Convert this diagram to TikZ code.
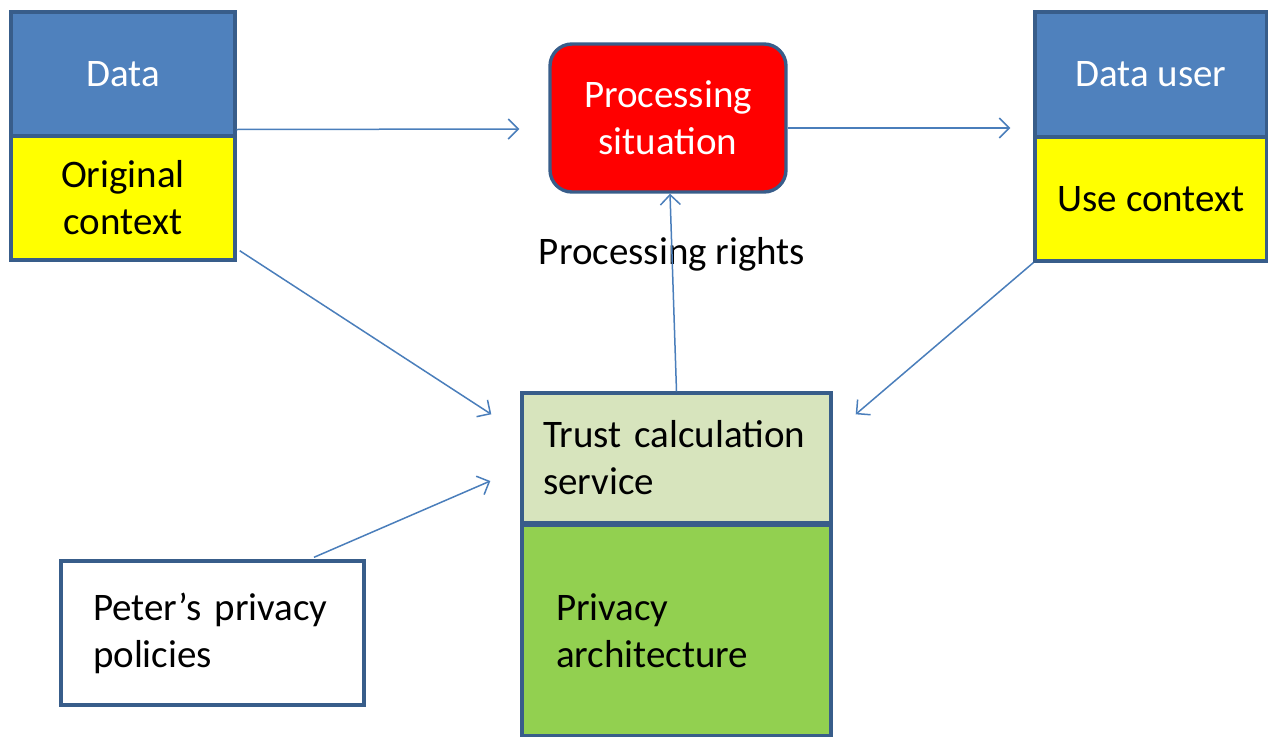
\documentclass[tikz,border=0pt]{standalone}
\usepackage{fontspec}
\setmainfont{Carlito}
\usetikzlibrary{arrows.meta}
\definecolor{bord}{HTML}{385D8A}
\definecolor{bluef}{HTML}{4F81BD}
\definecolor{yel}{HTML}{FFFF00}
\definecolor{lgreen}{HTML}{D7E4BD}
\definecolor{dgreen}{HTML}{92D050}
\definecolor{arrc}{HTML}{4A7EBB}
\tikzset{
  box/.style={draw=bord, line width=3.4pt, rectangle, inner sep=0pt,
    font=\fontsize{39}{47}\selectfont, align=center},
  arr/.style={draw=arrc, line width=1.5pt, -{Straight Barb[length=10pt,width=20pt,line width=1.5pt]}},
}
\begin{document}
\begin{tikzpicture}[x=1pt,y=-1pt]
\useasboundingbox (0,0) rectangle (1268,736);
\begin{scope}
\clip (0,0) rectangle (1268,736);
% Data
\node[box, fill=bluef, text=white, minimum width=224pt, minimum height=125pt] (datab) at (123,74.5) {Data};
\node[box, fill=yel, minimum width=224pt, minimum height=124pt] (datay) at (123,198) {Original\\context};
% Data user
\node[box, fill=bluef, text=white, minimum width=232pt, minimum height=125pt] (userb) at (1151,74.5) {Data user};
\node[box, fill=yel, minimum width=232pt, minimum height=124pt] (usery) at (1151,199) {Use context};
% Processing situation
\node[box, fill=red, text=white, rounded corners=22pt, minimum width=236pt, minimum height=148pt] (procs) at (668,118) {Processing\\situation};
% Trust calculation / privacy architecture
\node[box, fill=lgreen, minimum width=309pt, minimum height=130pt, text width=267pt, align=left, inner xsep=21pt] (trust) at (676.5,458) {Trust calculation\\service};
\node[box, fill=dgreen, minimum width=309pt, minimum height=211pt, text width=241pt, align=left, inner xsep=34pt] (priv) at (676.5,630.5) {Privacy\\architecture};
% Peter
\node[box, fill=white, minimum width=303pt, minimum height=144pt, text width=239pt, align=left, inner xsep=32pt] (peter) at (212.5,633) {Peter’s privacy\\policies};
% label
\node[font=\fontsize{39}{47}\selectfont, inner sep=0pt] (rights) at (672,254) {Processing rights};
% arrows
\draw[arr] ([yshift=-55pt]datab.east) -- ([shift={(-29pt,-11pt)}]procs.west);
\draw[arr] ([yshift=-10pt]procs.east) -- ([shift={(-23pt,-53.5pt)}]userb.west);
\draw[arr] ([shift={(3pt,11pt)}]datay.south east) -- ([shift={(-29pt,-23pt)}]trust.north west);
\draw[arr] (usery.south west) -- ([shift={(23pt,-23pt)}]trust.north east);
\draw[arr] ([shift={(101.5pt,2pt)}]peter.north) -- ([shift={(-30pt,-23pt)}]trust.west);
\draw[arr] (trust.north) -- ([xshift=2pt]procs.south);
\end{scope}
\end{tikzpicture}
\end{document}
